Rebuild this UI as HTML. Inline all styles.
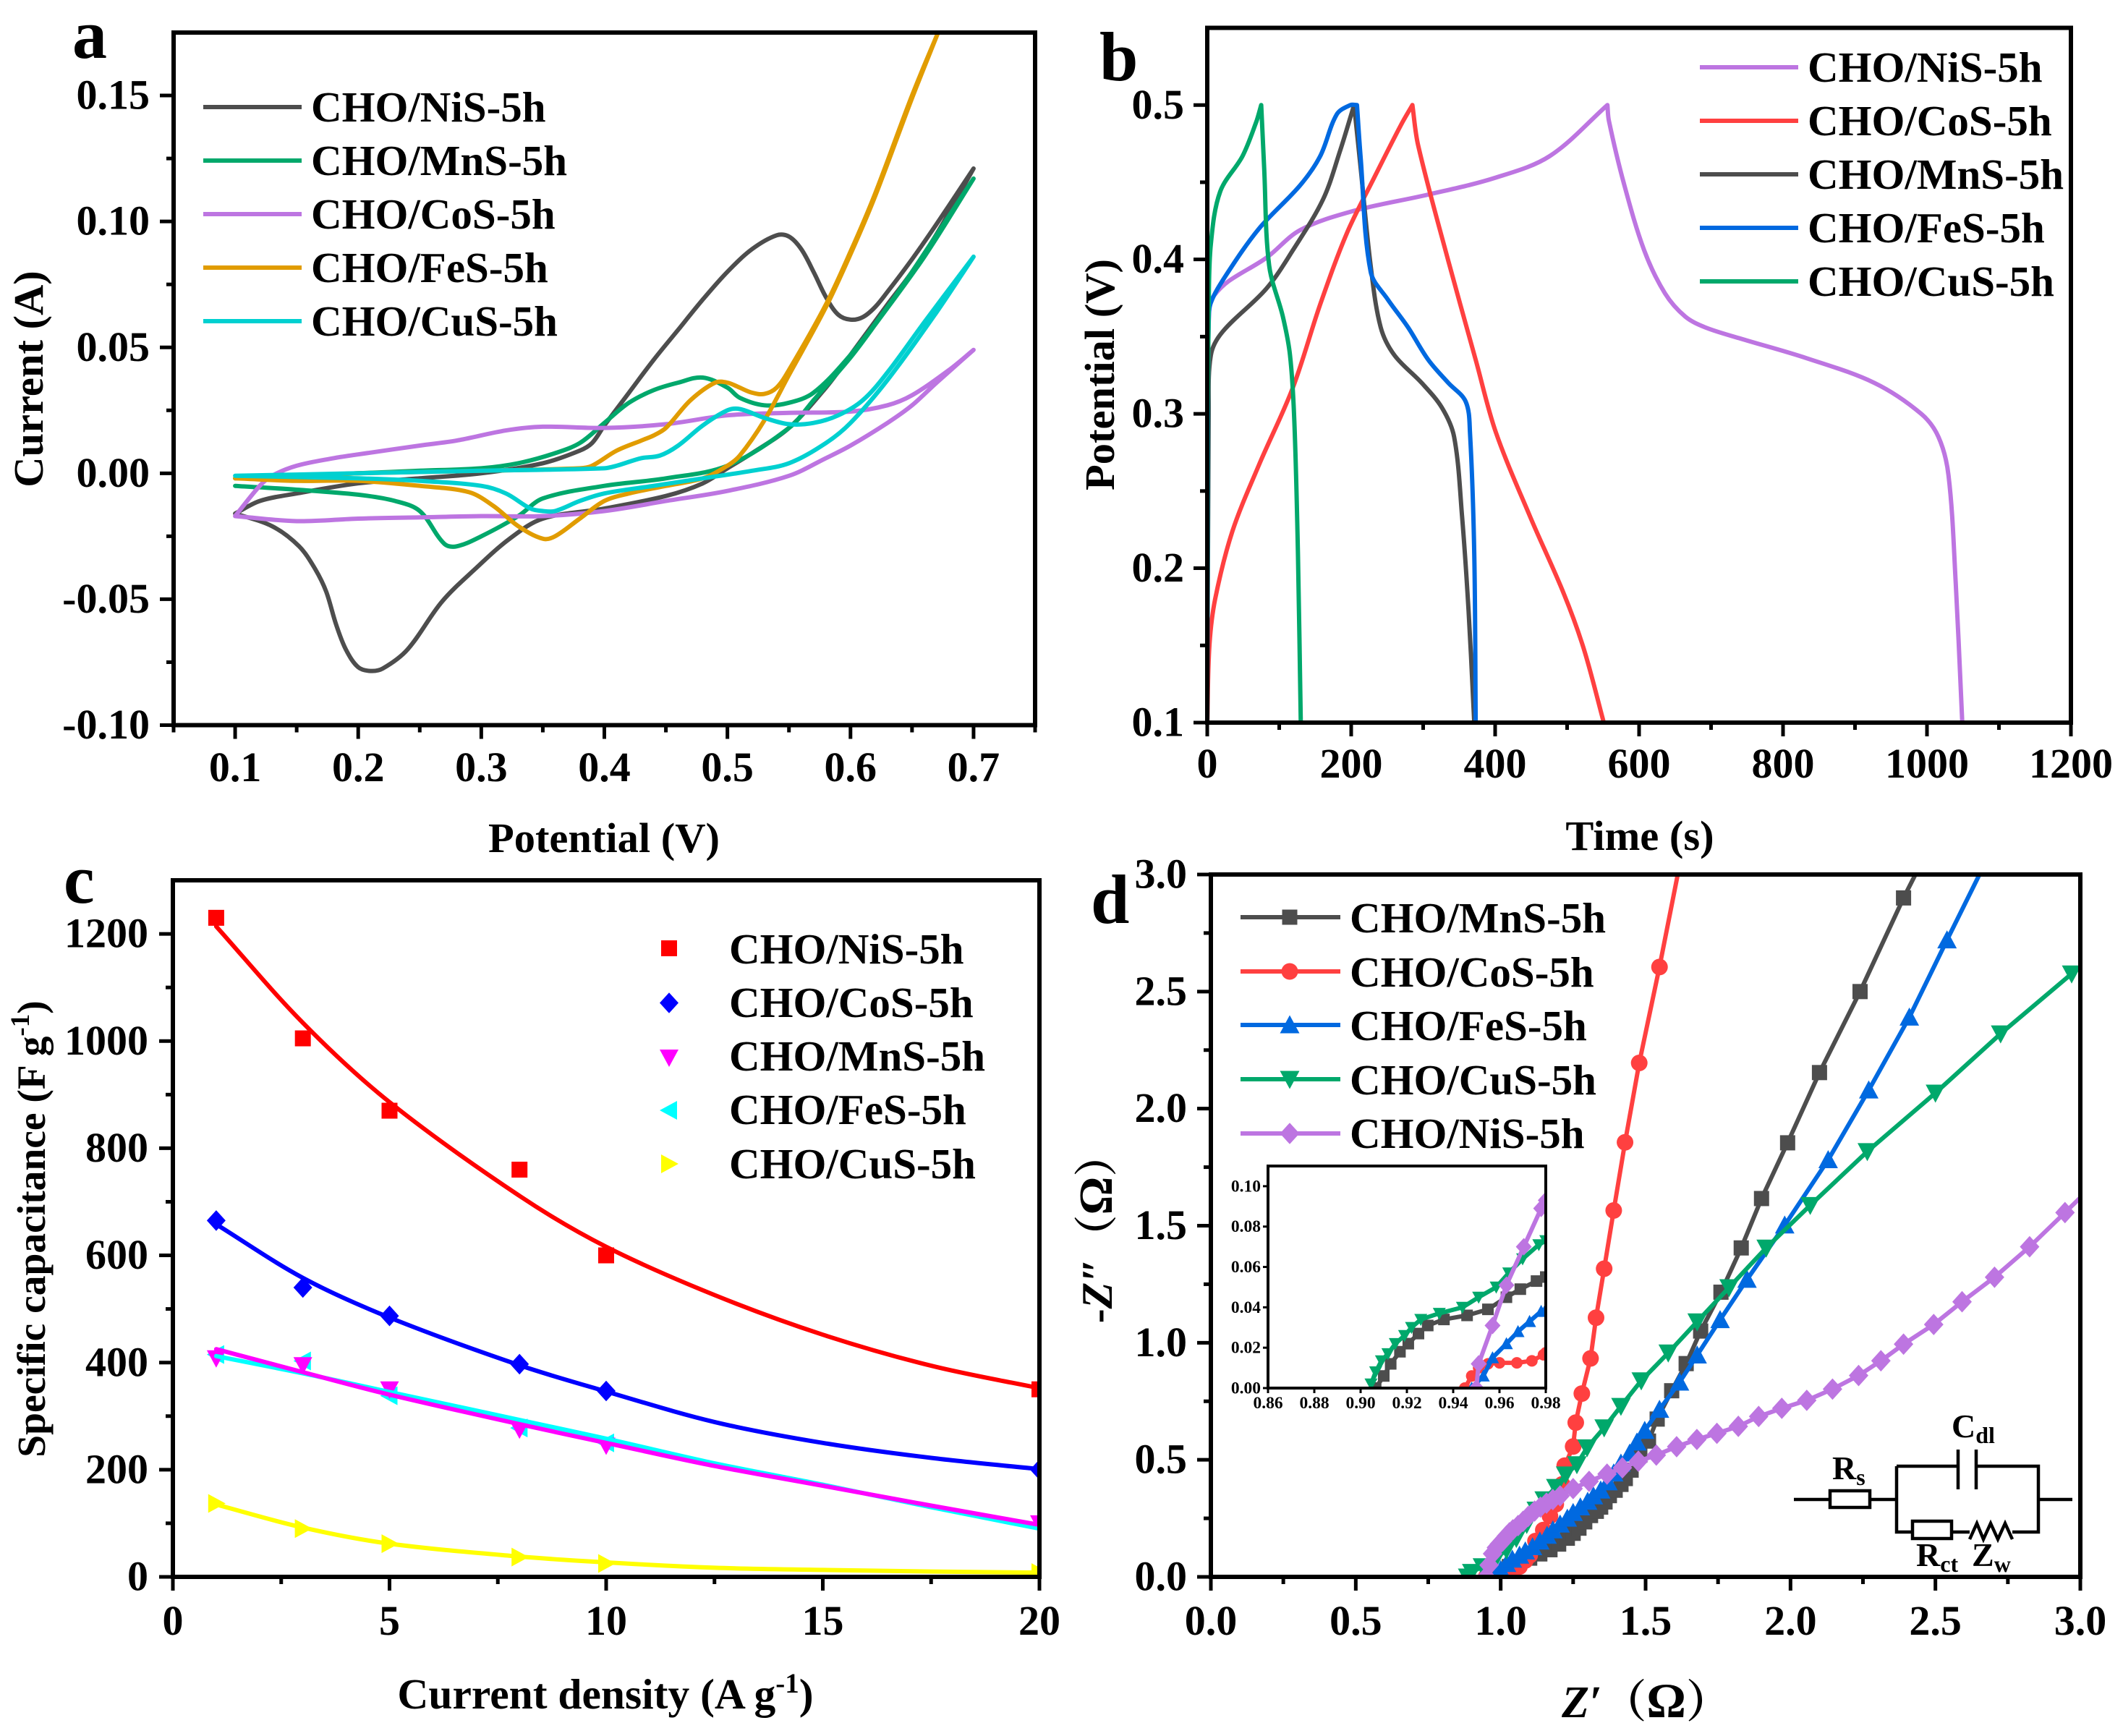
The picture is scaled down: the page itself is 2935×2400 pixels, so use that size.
<!DOCTYPE html>
<html lang="en">
<head>
<meta charset="utf-8">
<title>Electrochemical performance of CHO/metal sulfide electrodes</title>
<style>
html,body{margin:0;padding:0;background:#fff;}
svg{display:block;}
text{font-family:"Liberation Serif","Noto Serif CJK SC",serif;font-weight:bold;fill:#000;}
.ax{font-size:58.5px;}
.leg{font-size:59px;}
.tag{font-size:96px;}
.cir{font-size:46px;font-weight:bold;}
.cjk{font-family:"Noto Serif CJK SC","Liberation Serif",serif;}
</style>
</head>
<body>
<svg id="figure" xmlns="http://www.w3.org/2000/svg" width="2935" height="2400" viewBox="0 0 2935 2400">
  <rect width="2935" height="2400" fill="#fff"/>

  <g id="panel-a"></g>
  <g id="panel-b"></g>
  <g id="panel-c"></g>
  <g id="panel-d"></g>
  <g id="panel-d-inset"></g>

  <!-- panel tags -->
  <text class="tag" x="100" y="80">a</text>
  <text class="tag" x="1520" y="111">b</text>
  <text class="tag" x="88" y="1248">c</text>
  <text class="tag" x="1508" y="1276">d</text>

  <!-- axis titles -->
  <text class="ax" x="835" y="1178" text-anchor="middle">Potential (V)</text>
  <text class="ax" transform="translate(59 524) rotate(-90)" text-anchor="middle">Current (A)</text>
  <text class="ax" x="2267" y="1175" text-anchor="middle">Time (s)</text>
  <text class="ax" transform="translate(1540 518) rotate(-90)" text-anchor="middle">Potential (V)</text>
  <text class="ax" x="837" y="2362" text-anchor="middle" style="font-size:59.5px">Current density (A g<tspan dy="-22" style="font-size:39px">-1</tspan><tspan dy="22">)</tspan></text>
  <text class="ax" transform="translate(62 1699) rotate(-90)" text-anchor="middle" style="font-size:55.5px">Specific capacitance (F g<tspan dy="-22" style="font-size:37px">-1</tspan><tspan dy="22">)</tspan></text>
  <text class="ax" x="2276" y="2374" text-anchor="middle" style="font-size:62px"><tspan font-style="italic">Z′</tspan><tspan class="cjk">（</tspan><tspan style="font-size:68px">Ω</tspan><tspan class="cjk">）</tspan></text>
  <text class="ax" transform="translate(1537 1698) rotate(-90)" text-anchor="middle" style="font-size:60px">-<tspan font-style="italic">Z″</tspan><tspan class="cjk">（</tspan><tspan style="font-size:66px">Ω</tspan><tspan class="cjk">）</tspan></text>

  <!-- legend a -->
  <g>
    <line x1="281" x2="417" y1="148" y2="148" stroke="#4d4d4d" stroke-width="6"/>
    <text class="leg" x="430" y="168">CHO/NiS-5h</text>
    <line x1="281" x2="417" y1="222" y2="222" stroke="#00a86b" stroke-width="6"/>
    <text class="leg" x="430" y="242">CHO/MnS-5h</text>
    <line x1="281" x2="417" y1="296" y2="296" stroke="#bd75e1" stroke-width="6"/>
    <text class="leg" x="430" y="316">CHO/CoS-5h</text>
    <line x1="281" x2="417" y1="370" y2="370" stroke="#e19c00" stroke-width="6"/>
    <text class="leg" x="430" y="390">CHO/FeS-5h</text>
    <line x1="281" x2="417" y1="444" y2="444" stroke="#00d0d0" stroke-width="6"/>
    <text class="leg" x="430" y="464">CHO/CuS-5h</text>
  </g>

  <!-- legend b -->
  <g>
    <line x1="2350" x2="2486" y1="93" y2="93" stroke="#bd75e1" stroke-width="6"/>
    <text class="leg" x="2499" y="113">CHO/NiS-5h</text>
    <line x1="2350" x2="2486" y1="167" y2="167" stroke="#ff4040" stroke-width="6"/>
    <text class="leg" x="2499" y="187">CHO/CoS-5h</text>
    <line x1="2350" x2="2486" y1="241" y2="241" stroke="#4d4d4d" stroke-width="6"/>
    <text class="leg" x="2499" y="261">CHO/MnS-5h</text>
    <line x1="2350" x2="2486" y1="315" y2="315" stroke="#0069e0" stroke-width="6"/>
    <text class="leg" x="2499" y="335">CHO/FeS-5h</text>
    <line x1="2350" x2="2486" y1="389" y2="389" stroke="#00a86b" stroke-width="6"/>
    <text class="leg" x="2499" y="409">CHO/CuS-5h</text>
  </g>

  <!-- legend c -->
  <g id="legend-c">
    <text class="leg" x="1008" y="1332">CHO/NiS-5h</text>
    <text class="leg" x="1008" y="1406">CHO/CoS-5h</text>
    <text class="leg" x="1008" y="1480">CHO/MnS-5h</text>
    <text class="leg" x="1008" y="1554">CHO/FeS-5h</text>
    <text class="leg" x="1008" y="1629">CHO/CuS-5h</text>
  </g>

  <!-- legend d -->
  <g id="legend-d">
    <line x1="1715" x2="1853" y1="1268" y2="1268" stroke="#4d4d4d" stroke-width="6"/>
    <text class="leg" x="1866" y="1289">CHO/MnS-5h</text>
    <line x1="1715" x2="1853" y1="1343" y2="1343" stroke="#ff4040" stroke-width="6"/>
    <text class="leg" x="1866" y="1364">CHO/CoS-5h</text>
    <line x1="1715" x2="1853" y1="1417" y2="1417" stroke="#0069e0" stroke-width="6"/>
    <text class="leg" x="1866" y="1438">CHO/FeS-5h</text>
    <line x1="1715" x2="1853" y1="1492" y2="1492" stroke="#00a86b" stroke-width="6"/>
    <text class="leg" x="1866" y="1513">CHO/CuS-5h</text>
    <line x1="1715" x2="1853" y1="1567" y2="1567" stroke="#bd75e1" stroke-width="6"/>
    <text class="leg" x="1866" y="1587">CHO/NiS-5h</text>
  </g>

  <!-- equivalent circuit -->
  <g fill="none" stroke="#000" stroke-width="4.5">
    <path d="M2480 2073H2530M2585 2073H2622M2622 2027V2118H2644M2698 2118H2723M2782 2118H2818V2027H2732M2707 2027H2622M2818 2073H2865"/>
    <rect x="2530" y="2061" width="55" height="23" fill="#fff"/>
    <rect x="2644" y="2103" width="54" height="24" fill="#fff"/>
    <path d="M2707 2004V2059M2732 2004V2059"/>
    <path d="M2723 2128L2733 2106L2742 2128L2752 2106L2762 2128L2772 2106L2782 2128"/>
  </g>
  <text class="cir" x="2533" y="2045">R<tspan dy="8" style="font-size:32px">s</tspan></text>
  <text class="cir" x="2698" y="1987">C<tspan dy="8" style="font-size:32px">dl</tspan></text>
  <text class="cir" x="2649" y="2165">R<tspan dy="8" style="font-size:32px">ct</tspan></text>
  <text class="cir" x="2726" y="2165">Z<tspan dy="8" style="font-size:32px">w</tspan></text>
</svg>

<script>
/* ---------- Panel a: cyclic voltammetry ---------- */
const cvTicksX=[0.1,0.2,0.3,0.4,0.5,0.6,0.7];
const cvTickLabelsX=['0.1','0.2','0.3','0.4','0.5','0.6','0.7'];
const cvMinorX=[0.05,0.15,0.25,0.35,0.45,0.55,0.65,0.75];
const cvTicksY=[-0.10,-0.05,0,0.05,0.10,0.15];
const cvTickLabelsY=['-0.10','-0.05','0.00','0.05','0.10','0.15'];
const cvMinorY=[-0.075,-0.025,0.025,0.075,0.125];
const cvNiSV=[0.1,0.12,0.15,0.2,0.25,0.3,0.35,0.38,0.39,0.4,0.42,0.44,0.46,0.48,0.5,0.52,0.54,0.55,0.56,0.57,0.58,0.59,0.6,0.61,0.62,0.63,0.65,0.67,0.7,0.67,0.65,0.63,0.6,0.58,0.55,0.52,0.5,0.48,0.45,0.4,0.35,0.323,0.295,0.268,0.24,0.22,0.21,0.2,0.19,0.182,0.174,0.165,0.152,0.13,0.1];
const cvNiSI=[-0.016,-0.011,-0.008,-0.004,-0.002,0,0.004,0.009,0.012,0.019,0.032,0.045,0.057,0.069,0.08,0.089,0.0945,0.094,0.089,0.08,0.07,0.063,0.061,0.062,0.066,0.072,0.085,0.099,0.121,0.095,0.08,0.067,0.047,0.034,0.018,0.008,0.002,-0.004,-0.009,-0.014,-0.018,-0.026,-0.038,-0.051,-0.07,-0.0775,-0.0785,-0.077,-0.07,-0.06,-0.047,-0.038,-0.029,-0.021,-0.016];
const cvMnSV=[0.1,0.15,0.2,0.25,0.3,0.33,0.36,0.38,0.4,0.42,0.44,0.46,0.48,0.5,0.51,0.53,0.55,0.57,0.6,0.63,0.65,0.7,0.66,0.62,0.6,0.57,0.55,0.5,0.45,0.4,0.35,0.33,0.3,0.28,0.27,0.25,0.23,0.2,0.15,0.1];
const cvMnSI=[-0.002,-0.001,0,0.001,0.002,0.004,0.008,0.012,0.02,0.028,0.033,0.036,0.038,0.034,0.03,0.027,0.028,0.032,0.047,0.066,0.08,0.117,0.086,0.059,0.046,0.029,0.018,0.003,-0.002,-0.005,-0.01,-0.017,-0.025,-0.029,-0.028,-0.015,-0.011,-0.0085,-0.0065,-0.005];
const cvCoSV=[0.1,0.12,0.13,0.15,0.18,0.2,0.25,0.28,0.32,0.35,0.4,0.45,0.5,0.55,0.6,0.63,0.65,0.68,0.7,0.67,0.65,0.63,0.6,0.58,0.55,0.5,0.45,0.4,0.35,0.3,0.25,0.2,0.15,0.1];
const cvCoSI=[-0.017,-0.005,-0.001,0.003,0.006,0.0075,0.011,0.013,0.017,0.0185,0.018,0.0195,0.023,0.024,0.0245,0.027,0.031,0.041,0.049,0.036,0.027,0.02,0.011,0.006,-0.001,-0.007,-0.011,-0.015,-0.017,-0.017,-0.0175,-0.018,-0.019,-0.017];
const cvFeSV=[0.1,0.2,0.3,0.38,0.39,0.41,0.43,0.44,0.45,0.47,0.49,0.5,0.51,0.52,0.53,0.54,0.55,0.58,0.6,0.62,0.65,0.672,0.65,0.62,0.6,0.58,0.55,0.53,0.51,0.5,0.48,0.45,0.42,0.4,0.38,0.36,0.35,0.33,0.31,0.29,0.25,0.2,0.15,0.1];
const cvFeSI=[-0.002,0,0.001,0.002,0.003,0.009,0.013,0.015,0.018,0.029,0.036,0.036,0.034,0.032,0.0315,0.034,0.041,0.067,0.088,0.111,0.15,0.176,0.149,0.11,0.087,0.066,0.039,0.021,0.007,0.003,-0.002,-0.005,-0.008,-0.011,-0.018,-0.025,-0.026,-0.021,-0.013,-0.0075,-0.005,-0.003,-0.003,-0.002];
const cvCuSV=[0.1,0.2,0.3,0.4,0.41,0.43,0.445,0.46,0.48,0.5,0.51,0.53,0.55,0.57,0.59,0.61,0.63,0.66,0.7,0.67,0.63,0.6,0.58,0.55,0.52,0.48,0.44,0.4,0.38,0.36,0.35,0.34,0.32,0.3,0.25,0.2,0.1];
const cvCuSI=[-0.001,0,0.001,0.002,0.003,0.006,0.007,0.011,0.019,0.025,0.0255,0.022,0.0195,0.02,0.023,0.029,0.04,0.06,0.086,0.064,0.037,0.02,0.012,0.004,0.001,-0.002,-0.005,-0.008,-0.011,-0.015,-0.015,-0.014,-0.008,-0.005,-0.003,-0.002,-0.001];

/* ---------- Panel b: charge / discharge ---------- */
const gcdTicksX=[0,200,400,600,800,1000,1200];
const gcdTickLabelsX=['0','200','400','600','800','1000','1200'];
const gcdMinorX=[100,300,500,700,900,1100];
const gcdTicksY=[0.1,0.2,0.3,0.4,0.5];
const gcdTickLabelsY=['0.1','0.2','0.3','0.4','0.5'];
const gcdMinorY=[0.15,0.25,0.35,0.45];
const gcdCuSChargeT=[0,0.6,2,5,18,49,68,75];
const gcdCuSChargeV=[0.1,0.3,0.37,0.41,0.444,0.467,0.489,0.5];
const gcdCuSDischargeT=[75,79,86,105,115,121,126,130];
const gcdCuSDischargeV=[0.5,0.46,0.396,0.363,0.338,0.295,0.209,0.1];
const gcdCoSChargeT=[0,3,11,35,72,119,157,194,232,269,285];
const gcdCoSChargeV=[0.1,0.15,0.18,0.224,0.267,0.317,0.371,0.417,0.453,0.487,0.5];
const gcdCoSDischargeT=[285,293,335,373,401,448,495,523,551];
const gcdCoSDischargeV=[0.5,0.474,0.399,0.335,0.288,0.234,0.184,0.148,0.1];
const gcdMnSChargeT=[0,2,5,21,82,119,161,185,204];
const gcdMnSChargeV=[0.1,0.3,0.338,0.353,0.381,0.406,0.439,0.471,0.5];
const gcdMnSDischargeT=[204,213,227,241,260,298,326,343,354,363,371];
const gcdMnSDischargeV=[0.5,0.46,0.396,0.356,0.338,0.32,0.304,0.285,0.234,0.173,0.1];
const gcdFeSChargeT=[0,1,2,5,25,72,129,157,180,199,208];
const gcdFeSChargeV=[0.1,0.3,0.36,0.372,0.389,0.42,0.448,0.467,0.494,0.5,0.5];
const gcdFeSDischargeT=[208,213,227,251,279,307,335,359,365,371,373];
const gcdFeSDischargeV=[0.5,0.467,0.392,0.374,0.356,0.335,0.32,0.308,0.288,0.21,0.1];
const gcdNiSChargeT=[0,1,3,10,30,82,129,204,307,401,476,556];
const gcdNiSChargeV=[0.1,0.3,0.37,0.377,0.386,0.401,0.419,0.4315,0.442,0.453,0.467,0.5];
const gcdNiSDischargeT=[556,558,579,607,636,664,692,739,833,927,992,1016,1030,1040,1049];
const gcdNiSDischargeV=[0.5,0.49,0.449,0.406,0.378,0.363,0.356,0.349,0.336,0.32,0.3,0.285,0.26,0.19,0.1];

/* ---------- Panel c: specific capacitance ---------- */
const capTicksX=[0,5,10,15,20];
const capTickLabelsX=['0','5','10','15','20'];
const capMinorX=[2.5,7.5,12.5,17.5];
const capTicksY=[0,200,400,600,800,1000,1200];
const capTickLabelsY=['0','200','400','600','800','1000','1200'];
const capMinorY=[100,300,500,700,900,1100];
const capDensity=[1,3,5,8,10,20];
const capNiS=[1230,1005,870,760,600,350];
const capCoS=[665,540,487,397,347,200];
const capMnS=[408,395,350,275,245,100];
const capFeS=[415,403,338,278,250,95];
const capCuS=[137,90,62,37,25,8];
const fitDensity=[1,3,5,8,10,12.5,15,17.5,20];
const fitNiS=[1214,1034,886,711,616,526,452,394,352];
const fitCoS=[658,558,484,395,346,289,250,222,201];
const fitMnS=[425,382,340,285,250,207,170,133,97];
const fitFeS=[412,380,345,293,258,212,172,130,90];
const fitCuS=[135,92,62,38,27,17,13,10,8];

/* ---------- Panel d: Nyquist ---------- */
const eisTicks=[0,0.5,1,1.5,2,2.5,3];
const eisTickLabels=['0.0','0.5','1.0','1.5','2.0','2.5','3.0'];
const eisMinor=[0.25,0.75,1.25,1.75,2.25,2.75];
const eisMnSRe=[0.98,1.0,1.03,1.065,1.10,1.135,1.17,1.20,1.23,1.25,1.27,1.29,1.31,1.33,1.345,1.36,1.375,1.395,1.415,1.43,1.45,1.48,1.51,1.54,1.59,1.64,1.69,1.76,1.83,1.90,1.99,2.10,2.24,2.39,2.48];
const eisMnSIm=[0,0.02,0.044,0.062,0.08,0.098,0.116,0.14,0.165,0.186,0.208,0.235,0.262,0.28,0.298,0.32,0.347,0.37,0.395,0.42,0.456,0.52,0.58,0.674,0.795,0.911,1.05,1.216,1.405,1.616,1.854,2.154,2.50,2.90,3.12];
const eisCoSRe=[0.95,0.98,1.02,1.045,1.065,1.085,1.10,1.12,1.147,1.17,1.19,1.212,1.221,1.25,1.259,1.28,1.31,1.329,1.357,1.39,1.429,1.478,1.548,1.63];
const eisCoSIm=[0,0.004,0.012,0.028,0.044,0.07,0.092,0.153,0.2,0.26,0.31,0.395,0.475,0.557,0.659,0.783,0.933,1.107,1.316,1.565,1.856,2.195,2.605,3.12];
const eisFeSRe=[0.985,1.0,1.02,1.04,1.065,1.085,1.11,1.135,1.16,1.18,1.205,1.23,1.25,1.275,1.30,1.32,1.345,1.37,1.39,1.415,1.445,1.47,1.497,1.548,1.617,1.678,1.757,1.85,1.98,2.13,2.27,2.41,2.54,2.70];
const eisFeSIm=[0.007,0.03,0.056,0.075,0.092,0.11,0.128,0.152,0.177,0.2,0.225,0.25,0.274,0.298,0.322,0.345,0.37,0.405,0.443,0.485,0.528,0.575,0.625,0.715,0.831,0.947,1.098,1.27,1.502,1.781,2.079,2.39,2.72,3.12];
const eisCuSRe=[0.886,0.90,0.937,0.984,1.02,1.054,1.09,1.123,1.15,1.19,1.224,1.263,1.298,1.357,1.415,1.485,1.578,1.678,1.788,1.916,2.068,2.265,2.50,2.725,2.97,3.05];
const eisCuSIm=[0,0.02,0.044,0.08,0.116,0.165,0.225,0.286,0.33,0.383,0.436,0.48,0.552,0.637,0.729,0.838,0.957,1.09,1.236,1.405,1.587,1.817,2.067,2.32,2.576,2.65];
const eisNiSRe=[0.95,0.96,0.972,0.985,0.995,1.007,1.02,1.03,1.042,1.06,1.077,1.095,1.117,1.137,1.158,1.18,1.205,1.25,1.305,1.367,1.42,1.475,1.537,1.607,1.677,1.746,1.82,1.89,1.97,2.056,2.145,2.235,2.312,2.39,2.494,2.592,2.704,2.825,2.947,3.05];
const eisNiSIm=[0,0.05,0.099,0.125,0.14,0.153,0.175,0.188,0.201,0.219,0.237,0.258,0.281,0.298,0.315,0.33,0.346,0.377,0.408,0.439,0.466,0.494,0.52,0.556,0.587,0.613,0.643,0.685,0.72,0.754,0.802,0.86,0.923,0.994,1.078,1.175,1.28,1.41,1.556,1.68];

/* ---------- Inset of panel d ---------- */
const insTicksX=[0.86,0.88,0.90,0.92,0.94,0.96,0.98];
const insTickLabelsX=['0.86','0.88','0.90','0.92','0.94','0.96','0.98'];
const insTicksY=[0,0.02,0.04,0.06,0.08,0.10];
const insTickLabelsY=['0.00','0.02','0.04','0.06','0.08','0.10'];
const insMnSRe=[0.9065,0.91,0.913,0.917,0.9206,0.925,0.929,0.936,0.946,0.955,0.963,0.969,0.976,0.98];
const insMnSIm=[0,0.006,0.012,0.018,0.022,0.027,0.031,0.034,0.036,0.039,0.045,0.049,0.053,0.055];
const insCoSRe=[0.945,0.948,0.951,0.955,0.96,0.9675,0.974,0.979,0.98];
const insCoSIm=[0,0.006,0.01,0.012,0.0125,0.0125,0.0135,0.0165,0.0175];
const insFeSRe=[0.948,0.953,0.957,0.963,0.968,0.973,0.978,0.98];
const insFeSIm=[0,0.006,0.015,0.022,0.028,0.033,0.038,0.039];
const insCuSRe=[0.9045,0.9065,0.909,0.9118,0.915,0.919,0.922,0.926,0.934,0.944,0.951,0.9586,0.964,0.97,0.977,0.98];
const insCuSIm=[0.002,0.008,0.0135,0.017,0.022,0.026,0.03,0.034,0.037,0.04,0.045,0.05,0.057,0.064,0.071,0.073];
const insNiSRe=[0.95,0.951,0.957,0.963,0.9705,0.978,0.98];
const insNiSIm=[0,0.012,0.031,0.051,0.07,0.089,0.093];

/* ---------- helpers ---------- */
const NS='http://www.w3.org/2000/svg';
const GRAY='#4d4d4d',GREEN='#00a86b',PURPLE='#bd75e1',ORANGE='#e19c00',CYAN='#00d0d0',RED='#ff4040',BLUE='#0069e0';

function make(parent,tag,attrs){
  const e=document.createElementNS(NS,tag);
  for(const k in attrs){e.setAttribute(k,attrs[k]);}
  parent.appendChild(e);
  return e;
}
function scale(d0,d1,r0,r1){return v=>r0+(v-d0)/(d1-d0)*(r1-r0);}
function unit(a,b){
  const dx=b[0]-a[0],dy=b[1]-a[1],l=Math.hypot(dx,dy)||1;
  return [dx/l,dy/l];
}
function smoothPath(xs,ys,sx,sy){
  const p=xs.map((x,i)=>[sx(x),sy(ys[i])]);
  let d='M'+p[0][0].toFixed(1)+' '+p[0][1].toFixed(1);
  for(let i=0;i<p.length-1;i++){
    const a=p[Math.max(i-1,0)],b=p[i],c=p[i+1],e=p[Math.min(i+2,p.length-1)];
    const len=Math.hypot(c[0]-b[0],c[1]-b[1])/3;
    const t1=unit(a,c),t2=unit(b,e);
    const c1=[b[0]+t1[0]*len,b[1]+t1[1]*len];
    const c2=[c[0]-t2[0]*len,c[1]-t2[1]*len];
    d+='C'+c1[0].toFixed(1)+' '+c1[1].toFixed(1)+' '+c2[0].toFixed(1)+' '+c2[1].toFixed(1)+' '+c[0].toFixed(1)+' '+c[1].toFixed(1);
  }
  return d;
}
/* a CV loop turns sharply at its vertex potential: smooth each sweep separately */
function loopPath(xs,ys,sx,sy){
  const k=xs.indexOf(Math.max.apply(null,xs));
  return smoothPath(xs.slice(0,k+1),ys.slice(0,k+1),sx,sy)+smoothPath(xs.slice(k),ys.slice(k),sx,sy);
}
function straightPath(xs,ys,sx,sy){
  return xs.map((x,i)=>(i?'L':'M')+sx(x).toFixed(1)+' '+sy(ys[i]).toFixed(1)).join('');
}
function marker(parent,type,cx,cy,s,color){
  const h=s/2;
  let e;
  if(type==='circle'){
    e=make(parent,'circle',{cx:cx,cy:cy,r:h,fill:color});
  }else if(type==='square'){
    e=make(parent,'rect',{x:cx-h,y:cy-h,width:s,height:s,fill:color});
  }else{
    const shapes={
      diamond:[[0,-h*1.1],[h,0],[0,h*1.1],[-h,0]],
      up:[[0,-h],[h,h*0.85],[-h,h*0.85]],
      down:[[0,h],[h,-h*0.85],[-h,-h*0.85]],
      left:[[-h,0],[h*0.85,-h],[h*0.85,h]],
      right:[[h,0],[-h*0.85,-h],[-h*0.85,h]]
    };
    e=make(parent,'polygon',{points:shapes[type].map(q=>(cx+q[0]).toFixed(1)+','+(cy+q[1]).toFixed(1)).join(' '),fill:color});
  }
  return e;
}
let clipCount=0;
function setupPanel(g,f){
  const sx=scale(f.xd[0],f.xd[1],f.x0,f.x1);
  const sy=scale(f.yd[0],f.yd[1],f.y0,f.y1);
  const id='clip'+(clipCount++);
  const cp=make(g,'clipPath',{id:id});
  make(cp,'rect',{x:f.x0,y:f.y1,width:f.x1-f.x0,height:f.y0-f.y1});
  const plot=make(g,'g',{'clip-path':'url(#'+id+')'});
  
  
  return {sx,sy,plot};
}
function drawAxes(g,f,sx,sy){
  const axis=make(g,'g',{stroke:'#000','stroke-width':f.tw,fill:'none'});
  
  
  f.xt.forEach((v,i)=>{
    const t=make(axis,'line',{x1:sx(v),x2:sx(v),y1:f.y0,y2:f.y0+f.maj});
    
    
    const l=make(g,'text',{x:sx(v),y:f.xBase,'text-anchor':'middle','font-size':f.fs});
    l.textContent=f.xl[i];
    
    
  });
  f.yt.forEach((v,i)=>{
    const t=make(axis,'line',{x1:f.x0-f.maj,x2:f.x0,y1:sy(v),y2:sy(v)});
    
    
    const l=make(g,'text',{x:f.yEnd,y:sy(v)+f.fs*0.32,'text-anchor':'end','font-size':f.fs});
    l.textContent=f.yl[i];
    
    
  });
  (f.xm||[]).forEach(v=>{
    const t=make(axis,'line',{x1:sx(v),x2:sx(v),y1:f.y0,y2:f.y0+f.min});
    
    
  });
  (f.ym||[]).forEach(v=>{
    const t=make(axis,'line',{x1:f.x0-f.min,x2:f.x0,y1:sy(v),y2:sy(v)});
    
    
  });
  const frame=make(g,'rect',{x:f.x0,y:f.y1,width:f.x1-f.x0,height:f.y0-f.y1,fill:'none',stroke:'#000','stroke-width':f.fw});
  
  
}
function curve(plot,d,color,width,name){
  const p=make(plot,'path',{d:d,fill:'none',stroke:color,'stroke-width':width,'stroke-linejoin':'round','stroke-linecap':'round'});
  
  
  return p;
}

/* ---------- panel a ---------- */
(function(){
  const g=document.getElementById('panel-a');
  const f={prefix:'a',x0:240,x1:1431,y0:1002.5,y1:45,xd:[0.05,0.75],yd:[-0.10,0.175],xt:cvTicksX,xl:cvTickLabelsX,xm:cvMinorX,yt:cvTicksY,yl:cvTickLabelsY,ym:cvMinorY,fs:58,maj:19,min:10,tw:5,fw:6,xBase:1080,yEnd:207};
  const {sx,sy,plot}=setupPanel(g,f);
  curve(plot,loopPath(cvNiSV,cvNiSI,sx,sy),GRAY,6,'cv-curve-nis');
  curve(plot,loopPath(cvMnSV,cvMnSI,sx,sy),GREEN,6,'cv-curve-mns');
  curve(plot,loopPath(cvCoSV,cvCoSI,sx,sy),PURPLE,6,'cv-curve-cos');
  curve(plot,loopPath(cvFeSV,cvFeSI,sx,sy),ORANGE,6,'cv-curve-fes');
  curve(plot,loopPath(cvCuSV,cvCuSI,sx,sy),CYAN,6,'cv-curve-cus');
  drawAxes(g,f,sx,sy);
})();

/* ---------- panel b ---------- */
(function(){
  const g=document.getElementById('panel-b');
  const f={prefix:'b',x0:1669,x1:2863,y0:999,y1:38.5,xd:[0,1200],yd:[0.1,0.55],xt:gcdTicksX,xl:gcdTickLabelsX,xm:gcdMinorX,yt:gcdTicksY,yl:gcdTickLabelsY,ym:gcdMinorY,fs:58,maj:19,min:10,tw:5,fw:6,xBase:1075,yEnd:1637};
  const {sx,sy,plot}=setupPanel(g,f);
  curve(plot,smoothPath(gcdNiSChargeT,gcdNiSChargeV,sx,sy)+smoothPath(gcdNiSDischargeT,gcdNiSDischargeV,sx,sy),PURPLE,6,'gcd-curve-nis');
  curve(plot,smoothPath(gcdCoSChargeT,gcdCoSChargeV,sx,sy)+smoothPath(gcdCoSDischargeT,gcdCoSDischargeV,sx,sy),RED,6,'gcd-curve-cos');
  curve(plot,smoothPath(gcdMnSChargeT,gcdMnSChargeV,sx,sy)+smoothPath(gcdMnSDischargeT,gcdMnSDischargeV,sx,sy),GRAY,6,'gcd-curve-mns');
  curve(plot,smoothPath(gcdFeSChargeT,gcdFeSChargeV,sx,sy)+smoothPath(gcdFeSDischargeT,gcdFeSDischargeV,sx,sy),BLUE,6,'gcd-curve-fes');
  curve(plot,smoothPath(gcdCuSChargeT,gcdCuSChargeV,sx,sy)+smoothPath(gcdCuSDischargeT,gcdCuSDischargeV,sx,sy),GREEN,6,'gcd-curve-cus');
  drawAxes(g,f,sx,sy);
})();

/* ---------- panel c ---------- */
(function(){
  const g=document.getElementById('panel-c');
  const f={prefix:'c',x0:239,x1:1437,y0:2180,y1:1217,xd:[0,20],yd:[0,1300],xt:capTicksX,xl:capTickLabelsX,xm:capMinorX,yt:capTicksY,yl:capTickLabelsY,ym:capMinorY,fs:58,maj:19,min:10,tw:5,fw:6,xBase:2260,yEnd:205};
  const {sx,sy,plot}=setupPanel(g,f);
  const order=[
    ['nis',capNiS,fitNiS,'#ff0000','square',22],
    ['cos',capCoS,fitCoS,'#0000ff','diamond',26],
    ['fes',capFeS,fitFeS,'#00ffff','left',26],
    ['mns',capMnS,fitMnS,'#ff00ff','down',26],
    ['cus',capCuS,fitCuS,'#ffff00','right',26]
  ];
  order.forEach(s=>{
    s[1].forEach((v,i)=>{
      const m=marker(plot,s[4],sx(capDensity[i]),sy(v),s[5],s[3]);
      
      
    });
  });
  order.forEach(s=>{
    curve(plot,smoothPath(fitDensity,s[2],sx,sy),s[3],6,'capacitance-fit-'+s[0]);
  });
  drawAxes(g,f,sx,sy);
  const lg=document.getElementById('legend-c');
  const legendRows=[
    ['square','#ff0000',22,1311,'nis'],
    ['diamond','#0000ff',26,1386.5,'cos'],
    ['down','#ff00ff',26,1462,'mns'],
    ['left','#00ffff',26,1535,'fes'],
    ['right','#ffff00',26,1609,'cus']
  ];
  legendRows.forEach(r=>{
    const m=marker(lg,r[0],925,r[3],r[2],r[1]);
    
    
  });
})();

/* ---------- panel d ---------- */
(function(){
  const g=document.getElementById('panel-d');
  const f={prefix:'d',x0:1674,x1:2876,y0:2180,y1:1209,xd:[0,3],yd:[0,3],xt:eisTicks,xl:eisTickLabels,xm:eisMinor,yt:eisTicks,yl:eisTickLabels,ym:eisMinor,fs:58,maj:19,min:10,tw:5,fw:6,xBase:2260,yEnd:1641};
  const {sx,sy,plot}=setupPanel(g,f);
  const rows=[
    ['mns',eisMnSRe,eisMnSIm,GRAY,'square',21],
    ['cos',eisCoSRe,eisCoSIm,RED,'circle',23],
    ['fes',eisFeSRe,eisFeSIm,BLUE,'up',27],
    ['cus',eisCuSRe,eisCuSIm,GREEN,'down',27],
    ['nis',eisNiSRe,eisNiSIm,PURPLE,'diamond',27]
  ];
  rows.forEach(s=>{
    curve(plot,straightPath(s[1],s[2],sx,sy),s[3],6,'eis-line-'+s[0]);
    s[1].forEach((x,i)=>{
      const m=marker(plot,s[4],sx(x),sy(s[2][i]),s[5],s[3]);
      
      
    });
  });
  drawAxes(g,f,sx,sy);
  const lg=document.getElementById('legend-d');
  const legendRows=[['square',GRAY,21,1268,'mns'],['circle',RED,23,1343,'cos'],['up',BLUE,27,1417,'fes'],['down',GREEN,27,1492,'cus'],['diamond',PURPLE,27,1567,'nis']];
  legendRows.forEach(r=>{
    const m=marker(lg,r[0],1783,r[3],r[2],r[1]);
    
    
  });
})();

/* ---------- inset ---------- */
(function(){
  const g=document.getElementById('panel-d-inset');
  const bg=make(g,'rect',{x:1753,y:1612,width:384,height:307,fill:'#fff'});
  
  
  const f={prefix:'inset',x0:1753,x1:2137,y0:1919,y1:1612,xd:[0.86,0.98],yd:[0,0.11],xt:insTicksX,xl:insTickLabelsX,yt:insTicksY,yl:insTickLabelsY,fs:23.5,maj:7,min:4,tw:3,fw:4,xBase:1947,yEnd:1743};
  const {sx,sy,plot}=setupPanel(g,f);
  const rows=[
    ['mns',insMnSRe,insMnSIm,GRAY,'square',16],
    ['cos',insCoSRe,insCoSIm,RED,'circle',16],
    ['fes',insFeSRe,insFeSIm,BLUE,'up',18],
    ['cus',insCuSRe,insCuSIm,GREEN,'down',18],
    ['nis',insNiSRe,insNiSIm,PURPLE,'diamond',22]
  ];
  rows.forEach(s=>{
    curve(plot,straightPath(s[1],s[2],sx,sy),s[3],6,'inset-line-'+s[0]);
    s[1].forEach((x,i)=>{
      const m=marker(plot,s[4],sx(x),sy(s[2][i]),s[5],s[3]);
      
      
    });
  });
  drawAxes(g,f,sx,sy);
})();
</script>
</body>
</html>
